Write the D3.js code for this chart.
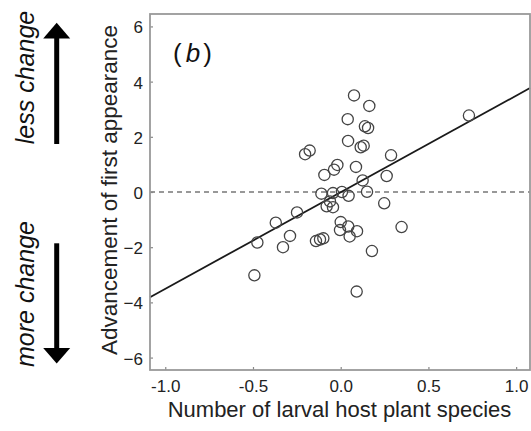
<!DOCTYPE html>
<html>
<head>
<meta charset="utf-8">
<script src="https://cdn.jsdelivr.net/npm/d3@7/dist/d3.min.js"></script>
<style>
  html, body { margin: 0; padding: 0; background: #fff; }
  svg { display: block; font-family: "Liberation Sans", Arial, Helvetica, sans-serif; }
</style>
</head>
<body>
<svg id="chart" width="531" height="431"></svg>
<script>
// ---- data ----
const xValues = [0.076, 0.163, 0.040, 0.138, 0.156, 0.731, 0.042, 0.114, 0.131, -0.203,
  -0.177, 0.287, -0.019, -0.038, 0.087, -0.093, 0.262, 0.125, 0.007, -0.110,
  -0.044, 0.045, 0.150, -0.061, -0.080, -0.044, 0.248, -0.249, -0.370, 0.000,
  0.043, -0.004, 0.093, 0.051, 0.347, -0.475, -0.289, -0.329, -0.141, -0.118,
  -0.099, 0.178, -0.492, 0.091];
const yValues = [3.50, 3.12, 2.64, 2.38, 2.32, 2.77, 1.85, 1.62, 1.68, 1.37,
  1.50, 1.33, 0.98, 0.81, 0.91, 0.62, 0.58, 0.42, 0.00, -0.06,
  -0.04, -0.14, 0.01, -0.34, -0.52, -0.55, -0.41, -0.74, -1.11, -1.09,
  -1.25, -1.38, -1.42, -1.61, -1.27, -1.83, -1.59, -2.00, -1.78, -1.72,
  -1.68, -2.14, -3.02, -3.61];
const xTicks = [-1.0, -0.5, 0.0, 0.5, 1.0];
const xTickLabels = ["-1.0", "-0.5", "0.0", "0.5", "1.0"];
const yTicks = [6, 4, 2, 0, -2, -4, -6];
const yTickLabels = ["6", "4", "2", "0", "\u22122", "\u22124", "\u22126"];
const regression = [3.50, -0.01]; // slope, intercept
const xDomain = [-1.087, 1.079];
const yDomain = [-6.45, 6.45];
const xTitle = "Number of larval host plant species";
const yTitle = "Advancement of first appearance";
const upLabel = "less change";
const downLabel = "more change";

// ---- layout ----
const L = 150, R = 530, T = 14, B = 370;
const svg = d3.select("#chart");
const x = d3.scaleLinear().domain(xDomain).range([L, R]);
const y = d3.scaleLinear().domain(yDomain).range([B, T]);

// zero reference line (dashed)
svg.append("line")
  .attr("x1", L).attr("x2", R)
  .attr("y1", y(0)).attr("y2", y(0))
  .attr("stroke", "#777").attr("stroke-width", 1.4)
  .attr("stroke-dasharray", "5,4");

// regression line
const lineGen = d3.line().x(d => x(d)).y(d => y(regression[0] * d + regression[1]));
svg.append("path")
  .datum(xDomain)
  .attr("d", lineGen)
  .attr("fill", "none")
  .attr("stroke", "#1a1a1a")
  .attr("stroke-width", 1.8);

// points
svg.append("g").selectAll("circle")
  .data(xValues.map((v, i) => [v, yValues[i]]))
  .join("circle")
  .attr("cx", d => x(d[0]))
  .attr("cy", d => y(d[1]))
  .attr("r", 5.6)
  .attr("fill", "none")
  .attr("stroke", "#444")
  .attr("stroke-width", 1.3);

// axes (ticks inward)
const xAxis = d3.axisBottom(x).tickValues(xTicks).tickSize(-3).tickPadding(8)
  .tickFormat((d, i) => xTickLabels[i]);
const gx = svg.append("g").attr("transform", `translate(0,${B})`).call(xAxis);
const yAxis = d3.axisLeft(y).tickValues(yTicks).tickSize(-3).tickPadding(10)
  .tickFormat((d, i) => yTickLabels[i]);
const gy = svg.append("g").attr("transform", `translate(${L},0)`).call(yAxis);
[gx, gy].forEach(g => {
  g.select(".domain").remove();
  g.selectAll(".tick line").attr("stroke", "#888").attr("stroke-width", 1.2);
  g.selectAll(".tick text").attr("fill", "#222").style("font-size", "17px")
    .style("font-family", '"Liberation Sans", Arial, sans-serif');
});
gx.selectAll(".tick text").attr("dy", "0.71em").attr("y", 9.5);
gy.selectAll(".tick text").attr("x", -7).attr("dy", "0.38em");

// frame
svg.append("rect")
  .attr("x", L).attr("y", T).attr("width", R - L).attr("height", B - T)
  .attr("fill", "none").attr("stroke", "#999").attr("stroke-width", 1.8);

// panel label (b)
const pl = svg.append("text").attr("x", 173).attr("y", 61.5)
  .attr("fill", "#111").style("font-size", "26px");
pl.append("tspan").text("(");
pl.append("tspan").attr("dx", 4).style("font-style", "italic").text("b");
pl.append("tspan").attr("dx", 3).text(")");

// axis titles
svg.append("text")
  .attr("x", (L + R) / 2 - 0.5).attr("y", 416.5)
  .attr("text-anchor", "middle").attr("fill", "#222")
  .style("font-size", "22px").text(xTitle);
svg.append("text")
  .attr("transform", `translate(116.5,${(T + B) / 2 - 2}) rotate(-90)`)
  .attr("text-anchor", "middle").attr("fill", "#222")
  .style("font-size", "22.5px").text(yTitle);

// side annotations
svg.append("text")
  .attr("transform", "translate(33.5,77.5) rotate(-90)")
  .attr("text-anchor", "middle").attr("fill", "#111")
  .style("font-size", "25px").style("font-style", "italic").text(upLabel);
svg.append("text")
  .attr("transform", "translate(33.5,294) rotate(-90)")
  .attr("text-anchor", "middle").attr("fill", "#111")
  .style("font-size", "25px").style("font-style", "italic").text(downLabel);

// arrows
const ax = 56.7;
svg.append("line").attr("x1", ax).attr("x2", ax).attr("y1", 144).attr("y2", 36)
  .attr("stroke", "#000").attr("stroke-width", 5);
svg.append("path").attr("d", `M${ax},22.7 L${ax - 13.5},38.5 L${ax + 13.5},38.5 Z`).attr("fill", "#000");
svg.append("line").attr("x1", ax).attr("x2", ax).attr("y1", 243.3).attr("y2", 350)
  .attr("stroke", "#000").attr("stroke-width", 5);
svg.append("path").attr("d", `M${ax},363.5 L${ax - 13.5},348 L${ax + 13.5},348 Z`).attr("fill", "#000");
</script>
</body>
</html>
